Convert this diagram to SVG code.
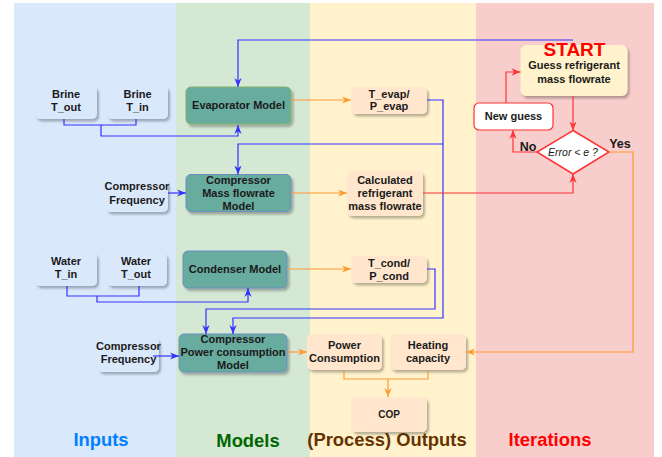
<svg xmlns="http://www.w3.org/2000/svg" width="662" height="457" viewBox="0 0 662 457">
<defs>
<style>
text{font-family:"Liberation Sans",Arial,sans-serif;font-weight:bold;font-size:11px;fill:#1a1a1a;text-anchor:middle}
.inp{fill:#dae8fc;stroke:none;filter:url(#sh)}
.mdl{fill:#67AB9F;stroke:#6c8ebf;stroke-width:1;filter:url(#sh)}
.out{fill:#ffe6cc;stroke:none;filter:url(#sh)}
.bl{fill:none;stroke:#3333FF;stroke-width:1.2}
.or{fill:none;stroke:#FF9933;stroke-width:1.2}
.rd{fill:none;stroke:#FF3333;stroke-width:1.2}
.ab{marker-end:url(#mb)}
.ao{marker-end:url(#mo)}
.ar{marker-end:url(#mr)}
.lbl{font-size:18.4px}
</style>
<filter id="sh" x="-10%" y="-10%" width="130%" height="140%">
<feDropShadow dx="2" dy="2.5" stdDeviation="1" flood-color="#000" flood-opacity="0.28"/>
</filter>
<marker id="mb" viewBox="0 0 10 10" refX="10" refY="5" markerWidth="9" markerHeight="9" markerUnits="userSpaceOnUse" orient="auto"><path d="M0,1 L10,5 L0,9 L3,5 z" fill="#3333FF"/></marker>
<marker id="mo" viewBox="0 0 10 10" refX="10" refY="5" markerWidth="9" markerHeight="9" markerUnits="userSpaceOnUse" orient="auto"><path d="M0,1 L10,5 L0,9 L3,5 z" fill="#FF9933"/></marker>
<marker id="mr" viewBox="0 0 10 10" refX="10" refY="5" markerWidth="9" markerHeight="9" markerUnits="userSpaceOnUse" orient="auto"><path d="M0,1 L10,5 L0,9 L3,5 z" fill="#FF3333"/></marker>
</defs>
<rect width="662" height="457" fill="#ffffff"/>
<g id="lanes">
<rect x="14" y="3" width="162" height="454" fill="#dae8fc"/>
<rect x="176" y="3" width="134" height="454" fill="#d5e8d4"/>
<rect x="310" y="3" width="166" height="454" fill="#fff2cc"/>
<rect x="476" y="3" width="178" height="454" fill="#f8cecc"/>
<text class="lbl" x="101" y="446" style="fill:#007FFF">Inputs</text>
<text class="lbl" x="248" y="447" style="fill:#006600">Models</text>
<text class="lbl" x="387" y="446" style="fill:#663300">(Process) Outputs</text>
<text class="lbl" x="550" y="446" style="fill:#FF0000">Iterations</text>
</g>
<g id="brine-tout"><rect class="inp" x="35" y="86" width="62" height="33" rx="5"/><text x="66" y="98">Brine</text><text x="66" y="111">T_out</text></g>
<g id="brine-tin"><rect class="inp" x="107" y="86" width="61" height="33" rx="5"/><text x="137.5" y="98">Brine</text><text x="137.5" y="111">T_in</text></g>
<g id="evaporator"><rect class="mdl" x="186" y="87" width="105" height="37" rx="5" style="stroke:#82b366"/><text x="238.5" y="108.5">Evaporator Model</text></g>
<g id="tevap"><rect class="out" x="351" y="87" width="76" height="27" rx="5"/><text x="389" y="98">T_evap/</text><text x="389" y="110">P_evap</text></g>
<g id="freq1"><rect class="inp" x="106" y="180" width="62" height="32" rx="5"/><text x="137" y="190">Compressor</text><text x="137" y="204">Frequency</text></g>
<g id="massflow"><rect class="mdl" x="186" y="174.5" width="105" height="37" rx="5"/><text x="238.5" y="184">Compressor</text><text x="238.5" y="197">Mass flowrate</text><text x="238.5" y="210">Model</text></g>
<g id="calculated"><rect class="out" x="347" y="171" width="76" height="45" rx="5"/><text x="385" y="184">Calculated</text><text x="385" y="197">refrigerant</text><text x="385" y="210">mass flowrate</text></g>
<g id="water-tin"><rect class="inp" x="35" y="253" width="62" height="33" rx="5"/><text x="66" y="265">Water</text><text x="66" y="278">T_in</text></g>
<g id="water-tout"><rect class="inp" x="107" y="253" width="60" height="33" rx="5"/><text x="136" y="265">Water</text><text x="136" y="278">T_out</text></g>
<g id="condenser"><rect class="mdl" x="183" y="251" width="104" height="37" rx="5"/><text x="235" y="273">Condenser Model</text></g>
<g id="tcond"><rect class="out" x="351" y="256" width="76" height="27" rx="5"/><text x="389" y="267">T_cond/</text><text x="389" y="280">P_cond</text></g>
<g id="freq2"><rect class="inp" x="98" y="338" width="61" height="34" rx="5"/><text x="128.5" y="350">Compressor</text><text x="128.5" y="363">Frequency</text></g>
<g id="power-model"><rect class="mdl" x="179" y="334" width="108" height="38" rx="5"/><text x="233" y="343">Compressor</text><text x="233" y="356">Power consumption</text><text x="233" y="369">Model</text></g>
<g id="power"><rect class="out" x="307" y="334" width="75" height="36" rx="5"/><text x="344.5" y="349">Power</text><text x="344.5" y="362">Consumption</text></g>
<g id="heating"><rect class="out" x="390" y="334" width="76" height="36" rx="5"/><text x="428" y="349">Heating</text><text x="428" y="362">capacity</text></g>
<g id="cop"><rect class="out" x="351" y="397" width="76" height="35" rx="5"/><text x="389" y="418" style="font-size:10px">COP</text></g>
<g id="start"><rect class="out" x="520.5" y="45" width="107" height="51" rx="6" style="fill:#fff2cc"/><text x="574.5" y="56" style="font-size:19px;fill:#FF0000">START</text><text x="574" y="69">Guess refrigerant</text><text x="574" y="83">mass flowrate</text></g>
<g id="newguess"><rect x="474" y="103" width="79" height="27" rx="5" fill="#ffffff" stroke="#FF3333" stroke-width="1.2"/><text x="513.5" y="120">New guess</text></g>
<g id="decision"><path d="M573,130.5 L609,152 L573,174 L537,152 Z" fill="#ffffff" stroke="#FF3333" stroke-width="1.5"/><text x="573" y="155.5" style="font-weight:normal;font-style:italic;font-size:10.5px">Error &lt; e ?</text></g>
<g id="connectors">
<path class="bl" d="M64,119 V125 H136 V119 M101,125 V136 H238 V125" style="marker-end:url(#mb)"/>
<path class="bl ab" d="M573,40 H238 V87"/>
<path class="bl ab" d="M427,100 H443 V318 H233 V334"/>
<path class="bl ab" d="M443,144 H238 V174.5"/>
<path class="bl ab" d="M427,269 H435 V309 H206 V334"/>
<path class="bl ab" d="M168,193 H186"/>
<path class="bl ab" d="M67,286 V296 H139 V286 M97,296 V302 H248 V288"/>
<path class="bl ab" d="M153,356 H179"/>
<path class="or ao" d="M291,100 H351"/>
<path class="or ao" d="M291,193 H347"/>
<path class="or ao" d="M287,269 H351"/>
<path class="or ao" d="M287,352 H307"/>
<path class="or ao" d="M344,370 V379 H428 V370 M388,379 V397"/>
<path class="or ao" d="M609,152 H633 V352 H466"/>
<path class="rd ar" d="M573,96 V130.5"/>
<path class="rd ar" d="M537,152 H513 V130"/>
<path class="rd ar" d="M506,103 V72 H520.5"/>
<path class="rd ar" d="M423,193 H573 V174"/>
<text x="528" y="151" style="font-size:12.5px">No</text>
<text x="620" y="148" style="font-size:12.5px">Yes</text>
</g>
</svg>
